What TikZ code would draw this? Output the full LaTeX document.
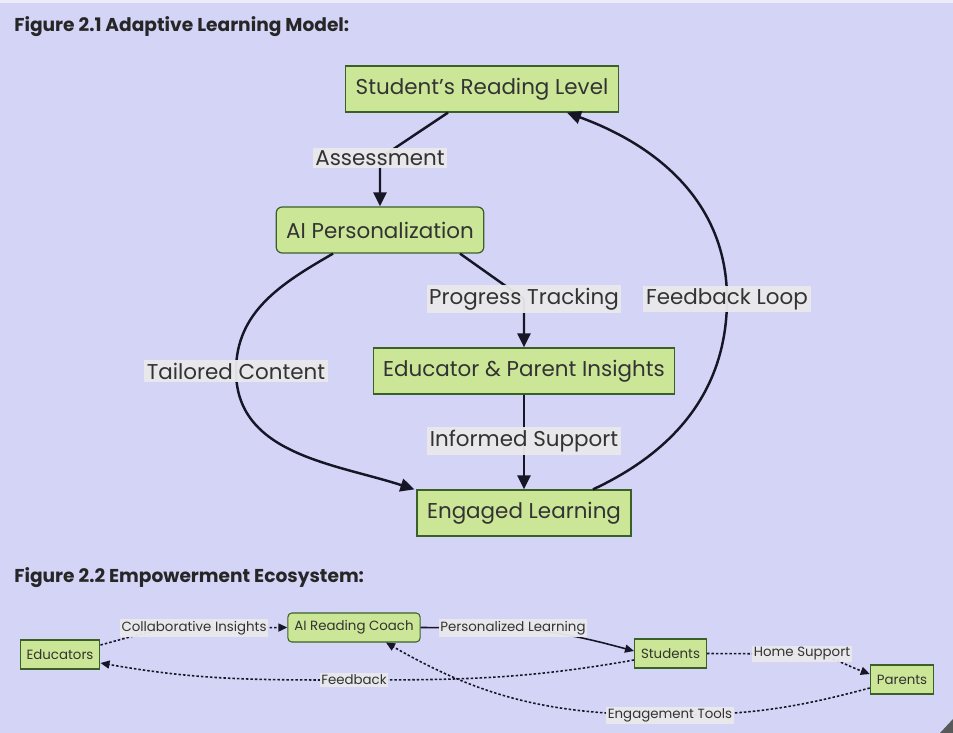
\documentclass[tikz,border=0pt]{standalone}
\usepackage{fontspec}
\setmainfont{Poppins}
\usetikzlibrary{arrows.meta}
\definecolor{bgblue}{RGB}{212,212,246}
\definecolor{boxgreen}{RGB}{204,230,152}
\definecolor{boxline}{RGB}{58,96,40}
\definecolor{lblgray}{RGB}{234,234,236}
\definecolor{inkline}{RGB}{22,22,38}
\tikzset{
  box/.style={draw=boxline, fill=boxgreen, line width=0.7pt, inner xsep=0.2cm,
    minimum height=0.92cm, text=black!80, font=\fontsize{12.2}{14}\selectfont},
  roundbox/.style={box, rounded corners=0.12cm},
  smallbox/.style={draw=boxline, fill=boxgreen, line width=0.6pt, inner xsep=0.13cm,
    minimum height=0.58cm, text=black!80, font=\fontsize{7.6}{9}\selectfont},
  smallround/.style={smallbox, rounded corners=0.08cm},
  lbl/.style={fill=lblgray, fill opacity=0.95, text opacity=1, inner sep=1.5pt,
    text=black!80, font=\fontsize{12.2}{14}\selectfont},
  smalllbl/.style={lbl, inner sep=1pt, font=\fontsize{7.6}{9}\selectfont},
  flow/.style={draw=inkline, line width=1.4pt, -{Triangle[length=0.28cm, width=0.26cm]}},
  plainline/.style={draw=inkline, line width=0.9pt, -{Triangle[length=0.18cm, width=0.16cm]}},
  dotline/.style={plainline, dash pattern=on 0.05cm off 0.04cm},
  heading/.style={anchor=west, inner sep=0pt, text=black!85, font=\fontsize{10.6}{12}\selectfont\bfseries}
}
\begin{document}
\begin{tikzpicture}[x=0.02cm, y=0.02cm]
\fill[bgblue] (0,0) rectangle (953,-733);
\useasboundingbox (0,0) rectangle (953,-733);
\fill[white!55!bgblue] (0,0) rectangle (953,-3);
%\draw[help lines, step=50] (0,0) grid (953,-733);

\node[heading](title1) at (14,-27) {Figure 2.1 Adaptive Learning Model:};
\node[box](srl) at (482,-89) {Student's Reading Level};
\node[roundbox](aip) at (380,-230) {AI Personalization};
\node[box](epi) at (524,-371) {Educator \& Parent Insights};
\node[box](el) at (524,-513) {Engaged Learning};

\coordinate(cassess) at (380,-158);
\coordinate(cprog) at (524,-299);
\coordinate(ctail) at (236,-371);
\coordinate(cinf) at (524,-441);
\coordinate(cloop) at (727,-299);

\draw[flow] ([xshift=-0.68cm]srl.south) -- (cassess) -- (aip.north);
\draw[flow] ([xshift=1.6cm]aip.south) -- (cprog) -- (epi.north);
\draw[flow] ([xshift=-0.94cm]aip.south) to[out=-150,in=90] (ctail) to[out=-90,in=162] ([xshift=-0.04cm]el.north west);
\draw[flow] (epi.south) -- (cinf) -- (el.north);
\draw[flow] ([xshift=1.38cm]el.north) to[out=25,in=-90] (cloop) to[out=90,in=-20] ([xshift=1.7cm]srl.south);

\node[lbl](lassess) at (cassess) {Assessment};
\node[lbl](lprog) at (cprog) {Progress Tracking};
\node[lbl](ltail) at (ctail) {Tailored Content};
\node[lbl](linf) at (cinf) {Informed Support};
\node[lbl](lloop) at (cloop) {Feedback Loop};

\node[heading](title2) at (14,-578) {Figure 2.2 Empowerment Ecosystem:};
\node[smallbox](edu) at (60,-654.5) {Educators};
\node[smallround](arc) at (354,-627.5) {AI Reading Coach};
\node[smallbox](stu) at (670.5,-653.5) {Students};
\node[smallbox](par) at (902,-679.5) {Parents};

\coordinate(ccollab) at (194,-628);
\coordinate(cpers) at (513,-628);
\coordinate(cfeed) at (354,-680);
\coordinate(chome) at (802,-654);
\coordinate(ceng) at (670,-715);

\draw[dotline] ([yshift=0.19cm]edu.east) to[out=15,in=180] (ccollab) -- (arc.west);
\draw[plainline] (arc.east) -- (cpers) to[out=-5,in=165] ([yshift=0.05cm]stu.west);
\draw[dotline] ([yshift=-0.13cm]stu.west) to[out=190,in=0] (cfeed) to[out=180,in=-10] ([yshift=-0.17cm]edu.east);
\draw[dotline] (stu.east) -- (chome) to[out=0,in=160] ([yshift=0.11cm]par.west);
\draw[dotline] ([yshift=-0.17cm]par.west) to[out=195,in=0] (ceng) to[out=180,in=-30] ([xshift=0.64cm]arc.south);

\node[smalllbl](lcollab) at (ccollab) {Collaborative Insights};
\node[smalllbl](lpers) at (cpers) {Personalized Learning};
\node[smalllbl](lfeed) at (cfeed) {Feedback};
\node[smalllbl](lhome) at (chome) {Home Support};
\node[smalllbl](leng) at (ceng) {Engagement Tools};

\fill[black!65] (940,-733) -- (953,-719) -- (953,-733) -- cycle;
\end{tikzpicture}
\end{document}
